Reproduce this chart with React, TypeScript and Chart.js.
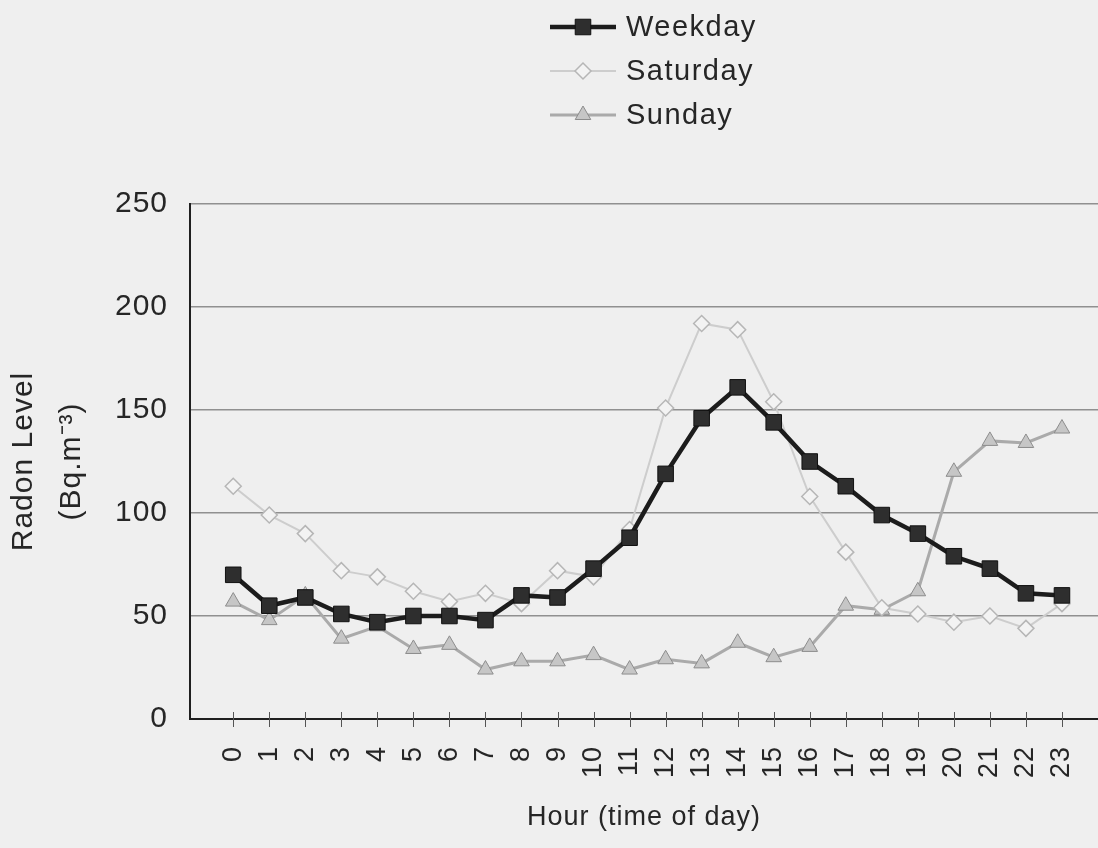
import React, { useEffect, useRef } from 'react';
import { Chart, registerables } from 'chart.js';

Chart.register(...registerables);

// ---------- data ----------
const hours = [0, 1, 2, 3, 4, 5, 6, 7, 8, 9, 10, 11, 12, 13, 14, 15, 16, 17, 18, 19, 20, 21, 22, 23];
const hourLabels = hours.map((h) => String(h));
const weekday = [70, 55, 59, 51, 47, 50, 50, 48, 60, 59, 73, 88, 119, 146, 161, 144, 125, 113, 99, 90, 79, 73, 61, 60];
const saturday = [113, 99, 90, 72, 69, 62, 57, 61, 56, 72, 69, 92, 151, 192, 189, 154, 108, 81, 54, 51, 47, 50, 44, 56];
const sunday = [57, 48, 60, 39, 45, 34, 36, 24, 28, 28, 31, 24, 29, 27, 37, 30, 35, 55, 53, 62, 120, 135, 134, 141];
const yTicks = [0, 50, 100, 150, 200, 250];
const seriesNames = ['Weekday', 'Saturday', 'Sunday'];
const xTitle = 'Hour (time of day)';
const yTitle = ['Radon Level', '(Bq.m\u207B\u00B3)'];

// ---------- styles ----------
const FONT = "'Liberation Sans', Arial, Helvetica, sans-serif";
const TEXT = '#262626';
const BG = '#efefef';

type Sty = { line: string; width: number; fill: string; stroke: string; shape: string; radius: number; bw: number };
const styles: Sty[] = [
  { line: '#1c1c1c', width: 4.5, fill: '#2e2e2e', stroke: '#111111', shape: 'rect', radius: 11, bw: 1 },
  { line: '#cdcdcd', width: 2, fill: '#f3f3f3', stroke: '#b6b6b6', shape: 'rectRot', radius: 8, bw: 1.5 },
  { line: '#aaaaaa', width: 3, fill: '#c6c6c6', stroke: '#8c8c8c', shape: 'triangle', radius: 9, bw: 1 },
];
const seriesData = [weekday, saturday, sunday];

function drawMarker(ctx: CanvasRenderingContext2D, s: Sty, x: number, y: number) {
  const r = s.radius;
  ctx.beginPath();
  if (s.shape === 'rect') {
    const h = r * Math.SQRT1_2;
    ctx.rect(x - h, y - h, 2 * h, 2 * h);
  } else if (s.shape === 'rectRot') {
    ctx.moveTo(x - r, y);
    ctx.lineTo(x, y - r);
    ctx.lineTo(x + r, y);
    ctx.lineTo(x, y + r);
    ctx.closePath();
  } else {
    let a = 0;
    ctx.moveTo(x + Math.sin(a) * r, y - Math.cos(a) * r);
    a += (2 * Math.PI) / 3;
    ctx.lineTo(x + Math.sin(a) * r, y - Math.cos(a) * r);
    a += (2 * Math.PI) / 3;
    ctx.lineTo(x + Math.sin(a) * r, y - Math.cos(a) * r);
    ctx.closePath();
  }
  ctx.fillStyle = s.fill;
  ctx.fill();
  ctx.lineWidth = s.bw;
  ctx.strokeStyle = s.stroke;
  ctx.stroke();
}

const SPACING = '1px';
const spacingPlugin = {
  id: 'spacing',
  beforeLayout(chart: any) {
    chart.ctx.letterSpacing = SPACING;
  },
  beforeDraw(chart: any) {
    chart.ctx.letterSpacing = SPACING;
  },
};

const crossTicksPlugin = {
  id: 'crossTicks',
  beforeDatasetsDraw(chart: any) {
    const ctx = chart.ctx as CanvasRenderingContext2D;
    const xs = chart.scales.x;
    const y0 = chart.chartArea.bottom;
    ctx.save();
    ctx.strokeStyle = '#555555';
    ctx.lineWidth = 1;
    hours.forEach((h) => {
      const px = Math.round(xs.getPixelForValue(h)) + 0.5;
      ctx.beginPath();
      ctx.moveTo(px, y0 - 7);
      ctx.lineTo(px, y0 + 8);
      ctx.stroke();
    });
    ctx.restore();
  },
};

const legendPlugin = {
  id: 'stackLegend',
  afterDraw(chart: any) {
    const ctx = chart.ctx as CanvasRenderingContext2D;
    const rows = [27, 71, 115];
    ctx.save();
    (ctx as any).letterSpacing = '1.5px';
    seriesNames.forEach((name, i) => {
      const s = styles[i];
      const y = rows[i];
      ctx.beginPath();
      ctx.moveTo(550, y);
      ctx.lineTo(616, y);
      ctx.strokeStyle = s.line;
      ctx.lineWidth = s.width;
      ctx.stroke();
      drawMarker(ctx, s, 583, y);
      ctx.fillStyle = TEXT;
      ctx.font = `29px ${FONT}`;
      ctx.textAlign = 'left';
      ctx.textBaseline = 'middle';
      ctx.fillText(name, 626, y + 1);
    });
    ctx.restore();
  },
};

export default function App() {
  const ref = useRef<HTMLCanvasElement | null>(null);

  useEffect(() => {
    if (!ref.current) return;
    const chart = new Chart(ref.current, {
      type: 'line',
      data: {
        datasets: seriesNames.map((name, i) => ({
          label: name,
          data: hours.map((h, j) => ({ x: h, y: seriesData[i][j] })),
          borderColor: styles[i].line,
          borderWidth: styles[i].width,
          pointStyle: styles[i].shape as any,
          pointRadius: styles[i].radius,
          pointBackgroundColor: styles[i].fill,
          pointBorderColor: styles[i].stroke,
          pointBorderWidth: styles[i].bw,
          tension: 0,
          fill: false,
        })),
      },
      options: {
        animation: false,
        responsive: true,
        maintainAspectRatio: false,
        layout: { autoPadding: false, padding: { top: 204, left: 0, right: 0, bottom: 0 } },
        plugins: { legend: { display: false }, tooltip: { enabled: false } },
        events: [],
        scales: {
          x: {
            type: 'linear',
            min: -1.2,
            max: 24,
            afterBuildTicks: (s: any) => {
              s.ticks = hours.map((v) => ({ value: v }));
            },
            afterFit: (s: any) => {
              s.height = 129;
              s.paddingLeft = 0;
              s.paddingRight = 0;
            },
            grid: { display: false, drawTicks: false },
            border: { display: true, color: '#1f1f1f', width: 2 },
            ticks: {
              autoSkip: false,
              maxRotation: 90,
              minRotation: 90,
              padding: 27,
              color: TEXT,
              font: { family: FONT, size: 27 },
              callback: (v: any) => {
                const k = hours.indexOf(Number(v));
                return k >= 0 ? hourLabels[k] : '';
              },
            },
            title: {
              display: true,
              text: xTitle,
              color: TEXT,
              font: { family: FONT, size: 27 },
              padding: { top: 0, bottom: 14 },
            },
          },
          y: {
            min: 0,
            max: 250,
            afterBuildTicks: (s: any) => {
              s.ticks = yTicks.map((v) => ({ value: v }));
            },
            afterFit: (s: any) => {
              s.width = 190;
              s.paddingTop = 0;
              s.paddingBottom = 0;
            },
            grid: {
              color: (c: any) => (c.tick && c.tick.value === 0 ? 'rgba(0,0,0,0)' : '#909090'),
              lineWidth: 1.5,
              drawTicks: false,
            },
            border: { display: true, color: '#1f1f1f', width: 2 },
            ticks: {
              padding: 22,
              color: TEXT,
              font: { family: FONT, size: 30 },
            },
            title: {
              display: true,
              text: yTitle,
              color: TEXT,
              font: { family: FONT, size: 30, lineHeight: '48px' } as any,
              padding: { top: 0, bottom: 0 },
            },
          },
        },
      },
      plugins: [spacingPlugin, crossTicksPlugin, legendPlugin],
    });
    return () => chart.destroy();
  }, []);

  return (
    <div style={{ position: 'absolute', left: 0, top: 0, width: 1098, height: 848, background: BG }}>
      <canvas ref={ref} />
    </div>
  );
}
